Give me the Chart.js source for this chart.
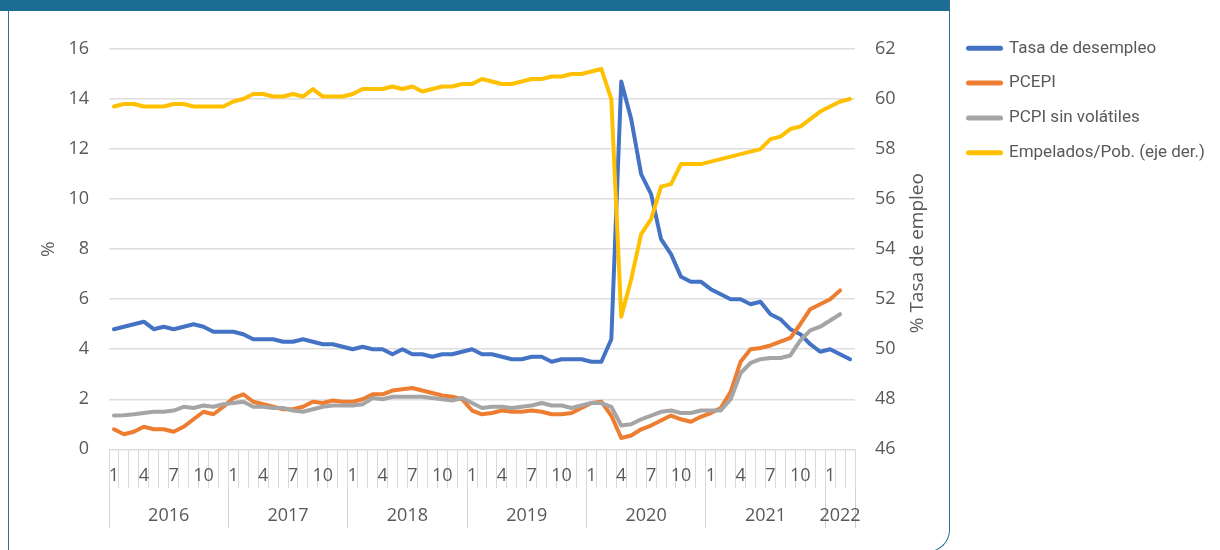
<!DOCTYPE html>
<html>
<head>
<meta charset="utf-8">
<script src="https://cdn.jsdelivr.net/npm/chart.js@4.4.1/dist/chart.umd.min.js"></script>
<style>
  html, body { margin: 0; padding: 0; background: #ffffff; }
  #wrap { position: relative; width: 1220px; height: 550px; overflow: hidden; }
  #band { position: absolute; left: 0; top: 0; width: 949px; height: 11px; background: #1d6c96; }
  #frame { position: absolute; left: 8px; top: 0; width: 942px; height: 552px; box-sizing: border-box;
           border: 1.5px solid #2c6f99; border-top: none; border-bottom-right-radius: 22px; }
  canvas { position: absolute; left: 0; top: 0; }
</style>
</head>
<body>
<div id="wrap">
  <div id="frame"></div>
  <div id="band"></div>
  <canvas id="chart" width="1220" height="550"></canvas>
</div>
<script>
// ---- data ----------------------------------------------------------------
const years = ['2016', '2017', '2018', '2019', '2020', '2021', '2022'];
const monthsPerYear = [12, 12, 12, 12, 12, 12, 3];
const monthTickLabels = ['1', '4', '7', '10'];

const leftAxisRange = [0, 16, 2];     // min, max, step (%)
const rightAxisRange = [46, 62, 2];   // min, max, step (% tasa de empleo)
const axisTitles = ['%', '% Tasa de empleo'];

const seriesNames = ['Tasa de desempleo', 'PCEPI', 'PCPI sin volátiles', 'Empelados/Pob. (eje der.)'];
const seriesColors = ['#4472C4', '#ED7D31', '#A5A5A5', '#FFC000'];

const tasaDesempleo = [
  4.8, 4.9, 5.0, 5.1, 4.8, 4.9, 4.8, 4.9, 5.0, 4.9, 4.7, 4.7,
  4.7, 4.6, 4.4, 4.4, 4.4, 4.3, 4.3, 4.4, 4.3, 4.2, 4.2, 4.1,
  4.0, 4.1, 4.0, 4.0, 3.8, 4.0, 3.8, 3.8, 3.7, 3.8, 3.8, 3.9,
  4.0, 3.8, 3.8, 3.7, 3.6, 3.6, 3.7, 3.7, 3.5, 3.6, 3.6, 3.6,
  3.5, 3.5, 4.4, 14.7, 13.2, 11.0, 10.2, 8.4, 7.8, 6.9, 6.7, 6.7,
  6.4, 6.2, 6.0, 6.0, 5.8, 5.9, 5.4, 5.2, 4.8, 4.6, 4.2, 3.9,
  4.0, 3.8, 3.6
];
const pcepi = [
  0.8, 0.6, 0.7, 0.9, 0.8, 0.8, 0.7, 0.9, 1.2, 1.5, 1.4, 1.7,
  2.05, 2.2, 1.9, 1.8, 1.7, 1.6, 1.6, 1.7, 1.9, 1.85, 1.95, 1.9,
  1.9, 2.0, 2.2, 2.2, 2.35, 2.4, 2.45, 2.35, 2.25, 2.15, 2.1, 2.0,
  1.55, 1.4, 1.45, 1.55, 1.5, 1.5, 1.55, 1.5, 1.4, 1.4, 1.45, 1.65,
  1.85, 1.9, 1.35, 0.45, 0.55, 0.8, 0.95, 1.15, 1.35, 1.2, 1.1, 1.3,
  1.45, 1.65, 2.3, 3.5, 4.0, 4.05, 4.15, 4.3, 4.45, 5.0, 5.6, 5.8,
  6.0, 6.35
];
const pcpiSinVolatiles = [
  1.35, 1.36, 1.4, 1.45, 1.5, 1.5, 1.55, 1.7, 1.65, 1.75, 1.7, 1.8,
  1.85, 1.9, 1.7, 1.7, 1.65, 1.65, 1.55, 1.5, 1.6, 1.7, 1.75, 1.75,
  1.75, 1.8, 2.05, 2.0, 2.1, 2.1, 2.1, 2.1, 2.05, 2.0, 1.95, 2.05,
  1.85, 1.65, 1.7, 1.7, 1.65, 1.7, 1.75, 1.85, 1.75, 1.75, 1.65, 1.75,
  1.85, 1.85, 1.7, 0.95, 1.0, 1.2, 1.35, 1.5, 1.55, 1.45, 1.45, 1.55,
  1.55, 1.55, 2.0, 3.05, 3.45, 3.6, 3.65, 3.65, 3.75, 4.35, 4.75, 4.9,
  5.15, 5.4
];
const empleadosPob = [
  59.7, 59.8, 59.8, 59.7, 59.7, 59.7, 59.8, 59.8, 59.7, 59.7, 59.7, 59.7,
  59.9, 60.0, 60.2, 60.2, 60.1, 60.1, 60.2, 60.1, 60.4, 60.1, 60.1, 60.1,
  60.2, 60.4, 60.4, 60.4, 60.5, 60.4, 60.5, 60.3, 60.4, 60.5, 60.5, 60.6,
  60.6, 60.8, 60.7, 60.6, 60.6, 60.7, 60.8, 60.8, 60.9, 60.9, 61.0, 61.0,
  61.1, 61.2, 60.0, 51.3, 52.8, 54.6, 55.2, 56.5, 56.6, 57.4, 57.4, 57.4,
  57.5, 57.6, 57.7, 57.8, 57.9, 58.0, 58.4, 58.5, 58.8, 58.9, 59.2, 59.5,
  59.7, 59.9, 60.0
];

// ---- derived category labels and year band -------------------------------
const monthLabels = [];
years.forEach((y, k) => {
  for (let m = 1; m <= monthsPerYear[k]; m++) monthLabels.push(y + '-' + m);
});
const monthOf = (lbl) => lbl.split('-')[1];

// ticks of the year band, in month-index units: year boundaries carry the
// divider lines, year centres carry the year text
const yearBandTicks = [];
let firstMonth = 0;
years.forEach((y, k) => {
  yearBandTicks.push({ value: firstMonth - 0.5, boundary: true, text: '' });
  yearBandTicks.push({ value: firstMonth + (monthsPerYear[k] - 1) / 2, boundary: false, text: y });
  firstMonth += monthsPerYear[k];
});
yearBandTicks.push({ value: firstMonth - 0.5, boundary: true, text: '' });

// ---- styling --------------------------------------------------------------
const textGrey = '#595959';
const tickFont = { family: "'Open Sans', 'Liberation Sans', sans-serif", size: 18 };
const legendFont = { family: "Roboto, 'Liberation Sans', sans-serif", size: 17 };
const legendPadding = 17.8;
const legendSwatch = 32;
const legendLeft = 950.7;

// the legend box is as wide as its longest entry; the right padding leaves
// it starting at legendLeft
const probe = document.createElement('canvas').getContext('2d');
probe.font = legendFont.size + 'px ' + legendFont.family;
const widestName = Math.max(...seriesNames.map(t => probe.measureText(t).width));
const legendBoxWidth = Math.ceil(legendPadding + legendSwatch + legendFont.size / 2 + widestName) + 1;
const rightPad = Math.max(0, 1220 - legendLeft - legendBoxWidth);

// right-hand axis title, read bottom-to-top like the left one
const rightAxisTitle = {
  id: 'rightAxisTitle',
  afterDraw(chart) {
    const s = chart.scales.y1, a = chart.chartArea, ctx = chart.ctx;
    ctx.save();
    ctx.translate(s.left + 63, (a.top + a.bottom) / 2 + 4);
    ctx.rotate(-Math.PI / 2);
    ctx.font = "19px 'Open Sans', 'Liberation Sans', sans-serif";
    ctx.fillStyle = textGrey;
    ctx.textAlign = 'center';
    ctx.textBaseline = 'middle';
    ctx.fillText(axisTitles[1], 0, 0);
    ctx.restore();
  }
};

const lineStyle = (i, data, axis, order) => ({
  label: seriesNames[i],
  data: data,
  yAxisID: axis,
  borderColor: seriesColors[i],
  backgroundColor: seriesColors[i],
  borderWidth: 4,
  pointRadius: 0,
  tension: 0,
  borderJoinStyle: 'round',
  borderCapStyle: 'round',
  order: order
});

new Chart(document.getElementById('chart'), {
  type: 'line',
  data: {
    labels: monthLabels,
    datasets: [
      lineStyle(0, tasaDesempleo, 'y', 4),
      lineStyle(1, pcepi, 'y', 3),
      lineStyle(2, pcpiSinVolatiles, 'y', 2),
      lineStyle(3, empleadosPob, 'y1', 1)
    ]
  },
  plugins: [rightAxisTitle],
  options: {
    responsive: false,
    animation: false,
    devicePixelRatio: 1,
    events: [],
    layout: { padding: { left: 10, right: rightPad, top: 22, bottom: 22 } },
    scales: {
      x: {
        type: 'category',
        position: 'bottom',
        weight: 0,
        offset: true,
        border: { display: false },
        grid: { offset: true, drawOnChartArea: false, drawTicks: true, tickLength: 39, color: '#d9d9d9', lineWidth: 1 },
        ticks: {
          autoSkip: false, maxRotation: 0, minRotation: 0, padding: -23.3,
          color: textGrey, font: tickFont,
          callback: (v, i) => {
            const m = monthOf(monthLabels[i]);
            return monthTickLabels.includes(m) ? m : '';
          }
        },
        afterFit: (scale) => { scale.height = 39; }
      },
      yearBand: {
        type: 'linear',
        position: 'bottom',
        weight: 1,
        bounds: 'data',
        min: -0.5,
        max: monthLabels.length - 0.5,
        border: { display: false },
        grid: {
          drawOnChartArea: false, drawTicks: true, tickLength: 39.7, lineWidth: 1,
          color: (ctx) => (ctx.tick && ctx.tick.boundary) ? '#d0d0d0' : 'rgba(0,0,0,0)'
        },
        afterBuildTicks: (scale) => {
          scale.ticks = yearBandTicks.map(t => ({ value: t.value, boundary: t.boundary, text: t.text }));
        },
        ticks: {
          autoSkip: false, maxRotation: 0, minRotation: 0, padding: -22.5,
          color: textGrey, font: tickFont,
          callback: (v, i, ticks) => ticks[i].text
        },
        afterFit: (scale) => { scale.height = 39.7; }
      },
      y: {
        position: 'left',
        min: leftAxisRange[0], max: leftAxisRange[1],
        border: { display: false },
        grid: { color: '#dedede', lineWidth: 1.5, drawTicks: false },
        ticks: { stepSize: leftAxisRange[2], padding: 20, color: textGrey, font: tickFont },
        title: {
          display: true, text: axisTitles[0], color: textGrey,
          font: { family: "'Open Sans', 'Liberation Sans', sans-serif", size: 19 },
          padding: { top: 27, bottom: 0 }
        },
        afterFit: (scale) => { scale.width = 99; }
      },
      y1: {
        position: 'right',
        min: rightAxisRange[0], max: rightAxisRange[1],
        border: { display: false },
        grid: { drawOnChartArea: false, drawTicks: false },
        ticks: { stepSize: rightAxisRange[2], padding: 20, color: textGrey, font: tickFont },
        afterFit: (scale) => { scale.width = legendLeft - 855; }
      }
    },
    plugins: {
      tooltip: { enabled: false },
      title: {
        display: true, text: ' ', position: 'top', fullSize: false, padding: 0,
        font: { size: 10, lineHeight: 2.7 }
      },
      legend: {
        position: 'right',
        align: 'start',
        maxWidth: legendBoxWidth,
        labels: {
          usePointStyle: true,
          pointStyleWidth: legendSwatch,
          padding: legendPadding,
          color: textGrey,
          font: legendFont,
          generateLabels: (chart) => chart.data.datasets.map((ds, i) => ({
            text: ds.label,
            strokeStyle: ds.borderColor,
            fillStyle: ds.borderColor,
            fontColor: textGrey,
            lineWidth: 5,
            lineCap: 'round',
            pointStyle: 'line',
            hidden: false,
            datasetIndex: i
          }))
        }
      }
    }
  }
});
</script>
</body>
</html>
